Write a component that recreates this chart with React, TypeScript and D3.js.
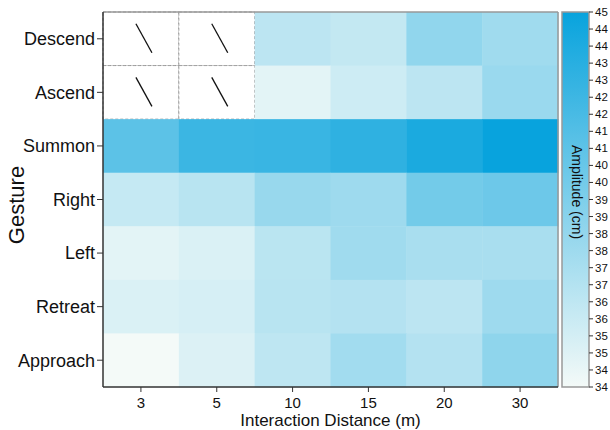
import React from "react";
import * as d3 from "d3";

const gestures = ["Descend", "Ascend", "Summon", "Right", "Left", "Retreat", "Approach"];
const distances = ["3", "5", "10", "15", "20", "30"];

// amplitude (cm) per gesture, one value per distance; null = not measured
const descend = [null, null, 36.6, 36.3, 38.6, 37.9];
const ascend = [null, null, 34.8, 35.8, 36.6, 38.2];
const summon = [41.1, 42.6, 42.7, 43.2, 44.1, 45.0];
const right = [36.2, 36.8, 38.3, 38.0, 40.0, 40.3];
const left = [34.8, 35.2, 36.7, 37.9, 37.5, 37.5];
const retreat = [35.2, 35.4, 36.8, 37.0, 36.6, 38.0];
const approach = [34.0, 35.1, 36.5, 37.8, 37.0, 38.7];

const rows = [descend, ascend, summon, right, left, retreat, approach];
const colorTicks = d3.range(34, 45.01, 0.5);

const width = 610;
const height = 430;
const margin = { top: 12, right: 52, bottom: 43, left: 103 };
const innerWidth = width - margin.left - margin.right;
const innerHeight = height - margin.top - margin.bottom;
const font = "'Liberation Sans', Arial, sans-serif";

export default function App() {
  const x = d3.scaleBand().domain(distances).range([0, innerWidth]);
  const y = d3.scaleBand().domain(gestures).range([0, innerHeight]);
  const color = d3
    .scaleLinear<string>()
    .domain([34, 45])
    .range(["#f4faf8", "#08a3dd"])
    .interpolate(d3.interpolateRgb);

  const barX = innerWidth + 4;
  const barW = 27;
  const cy = d3.scaleLinear().domain([34, 45]).range([innerHeight, 0]);

  const cells = rows.flatMap((vals, i) =>
    vals.map((v, j) => ({ g: gestures[i], d: distances[j], v }))
  );

  return (
    <svg
      width={width}
      height={height}
      style={{ position: "absolute", left: 0, top: 0, fontFamily: font }}
    >
      <defs>
        <linearGradient id="amp" x1="0" y1="1" x2="0" y2="0">
          {d3.range(0, 1.001, 0.1).map((t) => (
            <stop key={t} offset={t} stopColor={color(34 + t * 11)} />
          ))}
        </linearGradient>
      </defs>
      <rect width={width} height={height} fill="#fff" />
      <g transform={`translate(${margin.left},${margin.top})`}>
        {cells.map((c) =>
          c.v == null ? (
            <g key={c.g + c.d}>
              <rect
                x={x(c.d)}
                y={y(c.g)}
                width={x.bandwidth()}
                height={y.bandwidth()}
                fill="#fff"
                stroke="#888"
                strokeWidth={0.8}
                strokeDasharray="3,2"
              />
              <line
                x1={x(c.d)! + x.bandwidth() / 2 - 5}
                x2={x(c.d)! + x.bandwidth() / 2 + 11}
                y1={y(c.g)! + y.bandwidth() / 2 - 15}
                y2={y(c.g)! + y.bandwidth() / 2 + 14}
                stroke="#111"
                strokeWidth={1.3}
              />
            </g>
          ) : (
            <rect
              key={c.g + c.d}
              x={x(c.d)}
              y={y(c.g)}
              width={x.bandwidth() + 0.5}
              height={y.bandwidth() + 0.5}
              fill={color(c.v)}
            />
          )
        )}
        {/* frame */}
        <line x1={0} x2={innerWidth} y1={0} y2={0} stroke="#999" strokeWidth={1.5} />
        <line x1={innerWidth} x2={innerWidth} y1={0} y2={innerHeight} stroke="#999" strokeWidth={1.5} />
        <line x1={0} x2={0} y1={0} y2={innerHeight} stroke="#333" strokeWidth={1.5} />
        <line x1={0} x2={innerWidth} y1={innerHeight} y2={innerHeight} stroke="#333" strokeWidth={1.5} />

        {gestures.map((g) => (
          <g key={g} transform={`translate(0,${y(g)! + y.bandwidth() / 2})`}>
            <line x1={-6} x2={0} stroke="#333" />
            <text x={-8} dy="0.35em" textAnchor="end" fontSize={18} fill="#111">
              {g}
            </text>
          </g>
        ))}
        {distances.map((d) => (
          <g key={d} transform={`translate(${x(d)! + x.bandwidth() / 2},${innerHeight})`}>
            <line y1={0} y2={5} stroke="#333" />
            <text y={21} textAnchor="middle" fontSize={15} fill="#111">
              {d}
            </text>
          </g>
        ))}
        <text
          x={innerWidth / 2}
          y={innerHeight + 39}
          textAnchor="middle"
          fontSize={17}
          fill="#111"
        >
          Interaction Distance (m)
        </text>
        <text
          transform={`translate(${-79},${193}) rotate(-90)`}
          textAnchor="middle"
          fontSize={22}
          fill="#111"
        >
          Gesture
        </text>

        {/* colour bar */}
        <rect
          x={barX}
          y={0}
          width={barW}
          height={innerHeight}
          fill="url(#amp)"
          stroke="#999"
          strokeWidth={1.5}
        />
        {colorTicks.map((t) => (
          <g key={t} transform={`translate(${barX + barW},${cy(t)})`}>
            <line x1={0} x2={4} stroke="#333" />
            <text x={6} dy="0.35em" fontSize={11.5} fill="#111">
              {Math.floor(t)}
            </text>
          </g>
        ))}
        <text
          transform={`translate(${barX + barW / 2 - 4},${180}) rotate(90)`}
          textAnchor="middle"
          fontSize={14}
          fill="#111"
        >
          Amplitude (cm)
        </text>
      </g>
    </svg>
  );
}
